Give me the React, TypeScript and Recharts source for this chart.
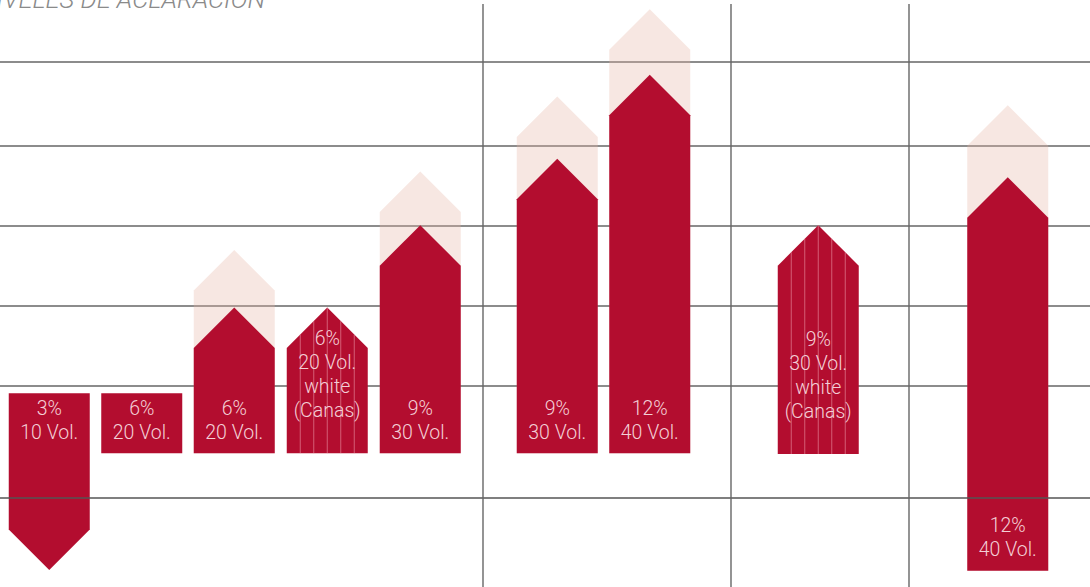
import React from 'react'
import { BarChart, Bar, XAxis, YAxis, CartesianGrid, ReferenceLine } from 'recharts'

// levels of lift, one unit per grid step; x in tenths of the page width
const percents = ['3%', '6%', '6%', '6%', '9%', '9%', '12%', '9%', '12%']
const volumes = ['10 Vol.', '20 Vol.', '20 Vol.', '20 Vol.', '30 Vol.', '30 Vol.', '40 Vol.', '30 Vol.', '40 Vol.']
const forWhiteHair = [false, false, false, true, false, false, false, true, false]
const slots = [4.9, 14.15, 23.4, 32.7, 42.0, 55.7, 64.95, 81.8, 100.75]
const directions = ['down', 'none', 'up', 'up', 'up', 'up', 'up', 'up', 'up']
const starts = [0.91, 0.16, 0.16, 0.16, 0.16, 0.16, 0.16, 0.15, -1.31]
const reached = [-1.3, 0.91, 1.98, 1.98, 3.01, 3.84, 4.89, 3.01, 3.61]
const potential = [null, null, 2.7, null, 3.68, 4.62, 5.71, null, 4.51]
const gridLevels = [1, 2, 3, 4, 5.05]
const baseLevel = -0.4
const dividers = [48.3, 73.1, 90.9]

const Y_DOMAIN: [number, number] = [-1.5125, 5.825]
const X_DOMAIN: [number, number] = [0, 109]
const RED = '#b30d2f'
const TEXT = '#f3cfd6'
const FONT = 'Roboto, "Liberation Sans", Arial, sans-serif'

const data = slots.map((x, i) => ({
  x,
  percent: percents[i],
  volume: volumes[i],
  white: forWhiteHair[i],
  dir: directions[i],
  range: [Math.min(starts[i], reached[i]), Math.max(starts[i], reached[i])],
  shadow: potential[i] == null ? null : [starts[i], potential[i]]
}))

function arrowPath(left: number, right: number, top: number, bottom: number, dir: string) {
  const cx = (left + right) / 2
  const head = (right - left) / 2
  if (dir === 'up') {
    return `M${left},${bottom} L${left},${top + head} L${cx},${top} L${right},${top + head} L${right},${bottom} Z`
  }
  if (dir === 'down') {
    return `M${left},${top} L${right},${top} L${right},${bottom - head} L${cx},${bottom} L${left},${bottom - head} Z`
  }
  return `M${left},${top} L${right},${top} L${right},${bottom} L${left},${bottom} Z`
}

function ShadowShape(props: any) {
  const { x, y, width, height, payload } = props
  if (!payload.shadow || !height) return null
  const top = Math.min(y, y + height)
  const bottom = Math.max(y, y + height)
  return <path d={arrowPath(x, x + width, top, bottom, 'up')} fill="#e7b3a6" fillOpacity={0.32} />
}

function ArrowShape(props: any) {
  const { x, y, width, height, payload } = props
  const top = Math.min(y, y + height)
  const bottom = Math.max(y, y + height)
  const left = x
  const right = x + width
  const cx = (left + right) / 2
  const lines = [payload.percent, payload.volume]
  if (payload.white) lines.push('white', '(Canas)')
  const lh = 24
  let first: number
  if (payload.dir === 'down') first = top + 15
  else first = bottom - (payload.white ? 43 : 21) - (lines.length - 1) * lh

  const stripes = []
  if (payload.white) {
    for (let k = 1; k < 6; k++) {
      const sx = left + (width * k) / 6
      const sy = payload.dir === 'up' ? top + Math.abs(sx - cx) : top
      stripes.push(
        <line key={k} x1={sx} x2={sx} y1={sy} y2={bottom} stroke="#f0a0b0" strokeOpacity={0.55} strokeWidth={1} />
      )
    }
  }

  return (
    <g>
      <path d={arrowPath(left, right, top, bottom, payload.dir)} fill={RED} />
      {stripes}
      {lines.map((t, i) => (
        <text
          key={i}
          x={cx}
          y={first + i * lh}
          textAnchor="middle"
          dominantBaseline="central"
          fill={TEXT}
          fontFamily={FONT}
          fontWeight={300}
          fontSize={19.5}
        >
          {t}
        </text>
      ))}
    </g>
  )
}

export default function App() {
  return (
    <div style={{ position: 'absolute', left: 0, top: 0, width: 1090, height: 587, background: '#fff', overflow: 'hidden' }}>
      <BarChart width={1090} height={587} data={data} margin={{ top: 0, right: 0, bottom: 0, left: 0 }}>
        <XAxis xAxisId="pale" dataKey="x" type="number" domain={X_DOMAIN} hide allowDataOverflow />
        <XAxis xAxisId="red" dataKey="x" type="number" domain={X_DOMAIN} hide allowDataOverflow />
        <YAxis type="number" domain={Y_DOMAIN} hide allowDataOverflow />
        <CartesianGrid vertical={false} horizontalValues={gridLevels} stroke="#666" strokeWidth={1.3} xAxisId="red" />
        <Bar xAxisId="pale" dataKey="shadow" barSize={81} shape={<ShadowShape />} isAnimationActive={false} />
        <Bar xAxisId="red" dataKey="range" barSize={81} shape={<ArrowShape />} isAnimationActive={false} />
        <ReferenceLine xAxisId="red" y={baseLevel} stroke="#555" strokeWidth={1.3} />
        {dividers.map((d) => (
          <ReferenceLine
            key={d}
            xAxisId="red"
            segment={[{ x: d, y: Y_DOMAIN[0] }, { x: d, y: 5.775 }]}
            stroke="#666"
            strokeWidth={1.4}
          />
        ))}
      </BarChart>
      <svg width={1090} height={40} style={{ position: 'absolute', left: 0, top: 0, pointerEvents: 'none' }}>
        <text
          x={265}
          y={8}
          textAnchor="end"
          fill="#8a8a8a"
          fontFamily={FONT}
          fontStyle="italic"
          fontWeight={300}
          fontSize={25.5}
        >
          NIVELES DE ACLARACIÓN
        </text>
      </svg>
    </div>
  )
}
